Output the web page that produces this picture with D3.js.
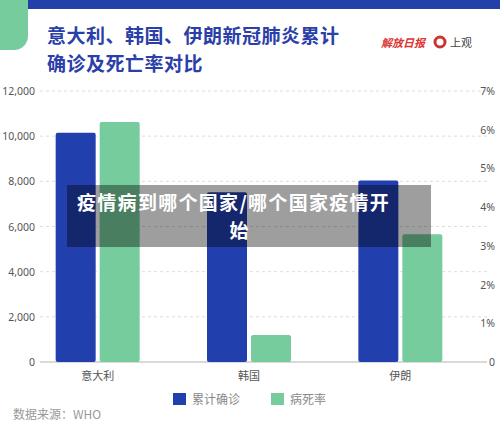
<!DOCTYPE html>
<html><head><meta charset="utf-8">
<script src="https://cdn.jsdelivr.net/npm/d3@7"></script>
<style>body{margin:0;background:#fff;font-family:"Noto Sans CJK SC","Noto Sans",sans-serif}</style>
</head><body><svg id="c" width="500" height="434"></svg>
<script>
const categories=["意大利","韩国","伊朗"];
const confirmed=[10149,7513,8042];
const deathRate=[6.2,0.7,3.3];
const leftTicks=[0,2000,4000,6000,8000,10000,12000];
const rightTicks=[0,1,2,3,4,5,6,7];
const svg=d3.select("#c");
const F='"Noto Sans CJK SC",sans-serif';
svg.append("rect").attr("x",28).attr("y",0).attr("width",472).attr("height",9).attr("fill","#2340a8");
svg.append("path").attr("d","M0,0H28V36A14,14 0 0 1 14,50H0Z").attr("fill","#76cc9c");
svg.append("text").attr("x",47).attr("y",43).attr("font-size",19).attr("letter-spacing",0.5).attr("font-weight","bold").attr("fill","#2a40a8").attr("font-family",F).text("意大利、韩国、伊朗新冠肺炎累计");
svg.append("text").attr("x",47).attr("y",71).attr("font-size",19).attr("letter-spacing",0.5).attr("font-weight","bold").attr("fill","#2a40a8").attr("font-family",F).text("确诊及死亡率对比");
svg.append("text").attr("x",381).attr("y",47).attr("font-size",11).attr("font-style","italic").attr("font-weight","bold").attr("fill","#d33").attr("font-family",F).text("解放日报");
svg.append("circle").attr("cx",440).attr("cy",42).attr("r",5).attr("fill","none").attr("stroke","#c33").attr("stroke-width",3);
svg.append("text").attr("x",450).attr("y",47).attr("font-size",11).attr("fill","#444").attr("font-family",F).text("上观");
const y=d3.scaleLinear().domain([0,12000]).range([362,91]);
const yr=d3.scaleLinear().domain([0,7]).range([362,91]);
const x=d3.scaleBand().domain(categories).range([22,476]);
const g=svg.append("g");
leftTicks.forEach(t=>{
 g.append("line").attr("x1",40).attr("x2",487).attr("y1",y(t)).attr("y2",y(t)).attr("stroke",t?"#ddd":"#ccc").attr("stroke-dasharray",t?"3,3":null).attr("stroke-width",t?1:1.5);
 g.append("text").attr("x",35).attr("y",y(t)+4).attr("text-anchor","end").attr("font-size",10.5).attr("fill","#555").attr("font-family","Noto Sans").text(d3.format(",")(t));
});
rightTicks.forEach(t=>{
 g.append("text").attr("x",495).attr("y",yr(t)+4).attr("text-anchor","end").attr("font-size",10.5).attr("fill","#555").attr("font-family","Noto Sans").text(t?t+"%":"0");
});
const bw=40;
categories.forEach((c,i)=>{
 const cx=x(c)+x.bandwidth()/2;
 g.append("rect").attr("x",cx-bw-2).attr("y",y(confirmed[i])).attr("width",bw).attr("height",362-y(confirmed[i])).attr("rx",2).attr("fill","#2140ae");
 g.append("rect").attr("x",cx+2).attr("y",yr(deathRate[i])).attr("width",bw).attr("height",362-yr(deathRate[i])).attr("rx",2).attr("fill","#76cc9c");
 g.append("text").attr("x",cx).attr("y",380).attr("text-anchor","middle").attr("font-size",11).attr("fill","#555").attr("font-family",F).text(c);
});
const leg=[["累计确诊","#2140ae",173],["病死率","#76cc9c",271]];
leg.forEach(l=>{
 svg.append("rect").attr("x",l[2]).attr("y",393).attr("width",13).attr("height",12).attr("fill",l[1]);
 svg.append("text").attr("x",l[2]+19).attr("y",404).attr("font-size",12).attr("fill","#888").attr("font-family",F).text(l[0]);
});
svg.append("text").attr("x",13).attr("y",419).attr("font-size",12).attr("fill","#999").attr("font-family",F).text("数据来源：WHO");
svg.append("rect").attr("x",67).attr("y",185).attr("width",364).attr("height",62).attr("fill","rgba(0,0,0,0.38)");
svg.append("text").attr("x",77).attr("y",210).attr("font-size",19).attr("letter-spacing",1.3).attr("font-weight","bold").attr("fill","#fff").attr("font-family",F).text("疫情病到哪个国家/哪个国家疫情开");
svg.append("text").attr("x",239).attr("y",238).attr("text-anchor","middle").attr("font-size",19).attr("font-weight","bold").attr("fill","#fff").attr("font-family",F).text("始");
</script></body></html>
